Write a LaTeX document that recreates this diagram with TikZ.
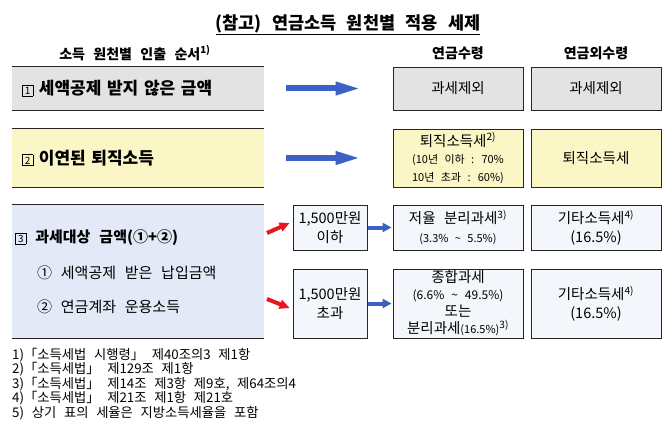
\documentclass[tikz,border=0pt]{standalone}
\usepackage{fontspec}
\setmainfont{Noto Sans CJK KR}[WordSpace=2.6]
\usepackage{tikz}
\usetikzlibrary{calc,arrows.meta,positioning}

\definecolor{grayfill}{RGB}{227,227,227}
\definecolor{yellowfill}{RGB}{250,246,197}
\definecolor{bluefill}{RGB}{227,233,247}
\definecolor{palefill}{RGB}{243,246,251}
\definecolor{arrowblue}{RGB}{61,96,196}
\definecolor{arrowred}{RGB}{232,22,30}

\newcommand{\sups}[1]{\textsuperscript{#1}}
\newcommand{\smalltxt}{\fontsize{11}{17}\selectfont}
\newcommand{\boxnum}[1]{\raisebox{0pt}{\setlength{\fboxsep}{0pt}\setlength{\fboxrule}{0.6pt}\fbox{\makebox[10pt][c]{\rule[-1pt]{0pt}{10.5pt}\fontsize{10}{10}\selectfont\mdseries #1}}}}

\tikzset{
  head/.style={font=\fontsize{14}{17}\selectfont\bfseries},
  srcbox/.style={inner xsep=10pt, inner ysep=0pt, text width=232pt, align=left,
    font=\fontsize{17}{20}\selectfont\bfseries},
  outbox/.style={draw=black!85, line width=0.8pt, minimum width=130pt, inner sep=0pt,
    align=center, font=\fontsize{14.5}{19}\selectfont},
  smallbox/.style={outbox, minimum width=74pt},
  rule/.style={draw=black!85, line width=0.8pt},
  bigarrow/.style={arrowblue, line width=6pt, -{Triangle[length=26pt,width=12pt]}},
  smallarrow/.style={arrowblue, line width=4pt, -{Triangle[length=9pt,width=9pt]}},
  redarrow/.style={arrowred, line width=4pt, -{Triangle[length=10pt,width=9pt]}},
  note/.style={font=\fontsize{13.3}{15}\selectfont, inner sep=0pt, anchor=west}
}

\begin{document}
\begin{tikzpicture}[x=1pt,y=-1pt]
    \useasboundingbox (0,0) rectangle (670,436);
    % title and column heads
    \node[font=\fontsize{17.5}{20}\selectfont\bfseries] (title) at (348,25)
        {\underline{(참고) 연금소득 원천별 적용 세제}};
    \node[head] (hsrc) at (135,53) {소득 원천별 인출 순서\sups{1)}};
    \node[head] (hpen) at (458,53) {연금수령};
    \node[head] (hoth) at (596,53) {연금외수령};

    % income sources
    \node[srcbox, fill=grayfill, minimum height=43pt] (src1) at (138,88.5)
        {\boxnum{1} 세액공제 받지 않은 금액};
    \node[srcbox, fill=yellowfill, minimum height=58pt] (src2) at (138,158)
        {\boxnum{2} 이연된 퇴직소득};
    \node[srcbox, fill=bluefill, minimum height=133pt] (src3) at (138,271.5) {};
    \foreach \n in {src1,src2,src3}
        \draw[rule] (\n.north west) -- (\n.north east) (\n.south west) -- (\n.south east);
    \node[font=\fontsize{15}{18}\selectfont\bfseries, inner sep=0pt, anchor=west] (txt3) at (15,238)
        {\boxnum{3} 과세대상 금액(①+②)};
    \node[font=\fontsize{15}{18}\selectfont, inner sep=0pt, anchor=west] (txt31) at (37,273)
        {① 세액공제 받은 납입금액};
    \node[font=\fontsize{15}{18}\selectfont, inner sep=0pt, anchor=west] (txt32) at (37,307)
        {② 연금계좌 운용소득};

    % limits
    \node[smallbox, fill=palefill, minimum height=45pt] (low) at (330,227.5) {1,500만원\\이하};
    \node[smallbox, fill=palefill, minimum height=69pt] (high) at (330,303.5) {1,500만원\\초과};

    % pension receipt
    \node[outbox, fill=grayfill, minimum height=43pt] (pen1) at (458,88.5) {과세제외};
    \node[outbox, fill=yellowfill, minimum height=58pt, font=\fontsize{14.5}{17.5}\selectfont] (pen2) at (458,158)
        {퇴직소득세\sups{2)}\\{\fontsize{11}{16.5}\selectfont (10년 이하 : 70\%}\\{\fontsize{11}{16.5}\selectfont 10년 초과 : 60\%)}};
    \node[outbox, fill=palefill, minimum height=45pt] (pen3) at (458,227.5)
        {저율 분리과세\sups{3)}\\{\smalltxt (3.3\% \textasciitilde{} 5.5\%)}};
    \node[outbox, fill=palefill, minimum height=69pt, font=\fontsize{14.5}{17}\selectfont] (pen4) at (458,303.5)
        {종합과세\\{\fontsize{12}{17}\selectfont (6.6\% \textasciitilde{} 49.5\%)}\\또는\\분리과세{\smalltxt(16.5\%)}\sups{3)}};

    % other receipt
    \node[outbox, fill=grayfill, minimum height=43pt] (oth1) at (596,88.5) {과세제외};
    \node[outbox, fill=yellowfill, minimum height=58pt] (oth2) at (596,158) {퇴직소득세};
    \node[outbox, fill=palefill, minimum height=45pt] (oth3) at (596,227.5) {기타소득세\sups{4)}\\(16.5\%)};
    \node[outbox, fill=palefill, minimum height=69pt] (oth4) at (596,303.5) {기타소득세\sups{4)}\\(16.5\%)};

    % arrows
    \draw[bigarrow, shorten <=22pt, shorten >=31pt] (src1) -- (pen1);
    \draw[bigarrow, shorten <=22pt, shorten >=31pt] (src2) -- (pen2);
    \coordinate (red1) at (267,233);
    \coordinate (red2) at (267,299);
    \draw[redarrow] (red1) -- ([shift={(-3,-4.5)}]low.west);
    \draw[redarrow] (red2) -- ([shift={(-3,4.5)}]high.west);
    \draw[smallarrow, shorten <=1pt, shorten >=1pt] (low) -- (pen3);
    \draw[smallarrow, shorten <=1pt, shorten >=1pt] (high) -- (pen4);

    % notes
    \foreach \t [count=\i] in {{1)「소득세법 시행령」 제40조의3 제1항},
        {2)「소득세법」 제129조 제1항},
        {3)「소득세법」 제14조 제3항 제9호, 제64조의4},
        {4)「소득세법」 제21조 제1항 제21호},
        {5) 상기 표의 세율은 지방소득세율을 포함}}
        \node[note] (note\i) at (12,340.5+14.5*\i) {\t};
\end{tikzpicture}
\end{document}
